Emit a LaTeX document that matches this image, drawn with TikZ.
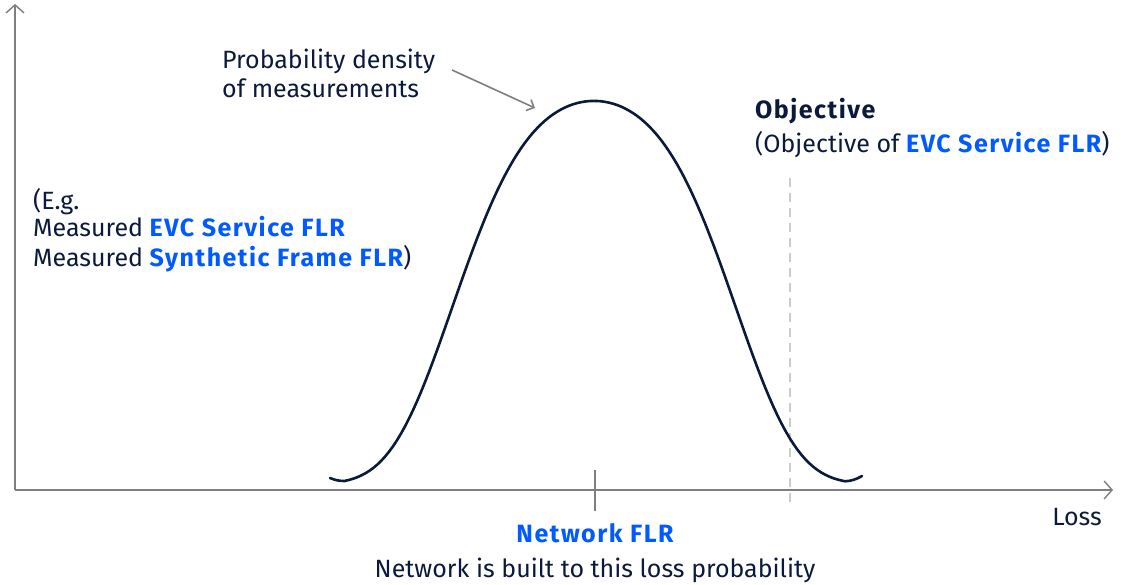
\documentclass[tikz,border=0pt]{standalone}
\usepackage{fontspec}
\setmainfont{Fira Sans}
\usetikzlibrary{arrows.meta}
\definecolor{navy}{HTML}{0B1A3A}
\definecolor{nblue}{HTML}{005AFF}
\definecolor{axisgray}{HTML}{7F7F7F}
\definecolor{dashgray}{HTML}{CCCCCC}
\tikzset{
  txt/.style={inner sep=0pt, text=navy, font=\fontsize{25}{30}\selectfont},
  axisline/.style={draw=axisgray, line width=1.4pt, -{Straight Barb[length=8pt,width=18pt,line width=1.4pt]}},
  declare function={dens(\t)=484-383*exp(-0.198*\t*\t-0.093*\t*\t*\t*\t);},
}
\newcommand{\hl}[1]{\textcolor{nblue}{\bfseries\addfontfeature{LetterSpace=6}#1}}
\begin{document}
\begin{tikzpicture}[x=1pt,y=-1pt]
\useasboundingbox (0,0) rectangle (1121,585);
\coordinate (O) at (15,490);
\coordinate (Ytop) at (15,4);
\coordinate (Xend) at (1113,490);
\draw[axisline] (O) -- (Ytop);
\draw[axisline] (O) -- (Xend);
% tick
\coordinate (t1) at (595,470);
\coordinate (t2) at (595,511);
\draw[draw=axisgray, line width=1.4pt] (t1) -- (t2);
% dashed objective line
\coordinate (d1) at (790,178);
\coordinate (d2) at (790,505);
\draw[draw=dashgray, line width=2pt, dash pattern=on 9pt off 6pt] (d1) -- (d2);
% curve
\coordinate (cs) at (330,478);
\coordinate (ce) at (862,476);
\draw[navy, line width=2.6pt, line cap=round, line join=round]
  (cs) .. controls (336,480.5) and (340,481) .. (345,481)
  -- plot[domain=345:845, samples=126] (\x,{dens((\x-594)/100)})
  .. controls (851,481) and (856,479.5) .. (ce);
% annotation arrow
\coordinate (a1) at (452,70);
\coordinate (a2) at (535,108);
\draw[draw=axisgray, line width=1.6pt, -{Straight Barb[length=6pt,width=12pt,line width=1.6pt]}] (a1) -- (a2);
% texts
\node[txt, anchor=base west] (pd1) at (222,69) {Probability density};
\node[txt, anchor=base west] (pd2) at (222,98) {of measurements};
\node[txt, anchor=base west] (ob1) at (755,119) {\bfseries\addfontfeature{LetterSpace=6}Objective};
\node[txt, anchor=base west] (ob2) at (755,153) {(Objective of \hl{EVC Service FLR})};
\node[txt, anchor=base west] (eg1) at (33,210) {(E.g.};
\node[txt, anchor=base west] (eg2) at (33,237) {Measured \hl{EVC Service FLR}};
\node[txt, anchor=base west] (eg3) at (33,267) {Measured \hl{Synthetic Frame FLR})};
\node[txt, anchor=base east] (loss) at (1102,525) {Loss};
\node[txt, anchor=base] (nf1) at (595,542) {\hl{Network FLR}};
\node[txt, anchor=base] (nf2) at (595,577) {Network is built to this loss probability};
\end{tikzpicture}
\end{document}
